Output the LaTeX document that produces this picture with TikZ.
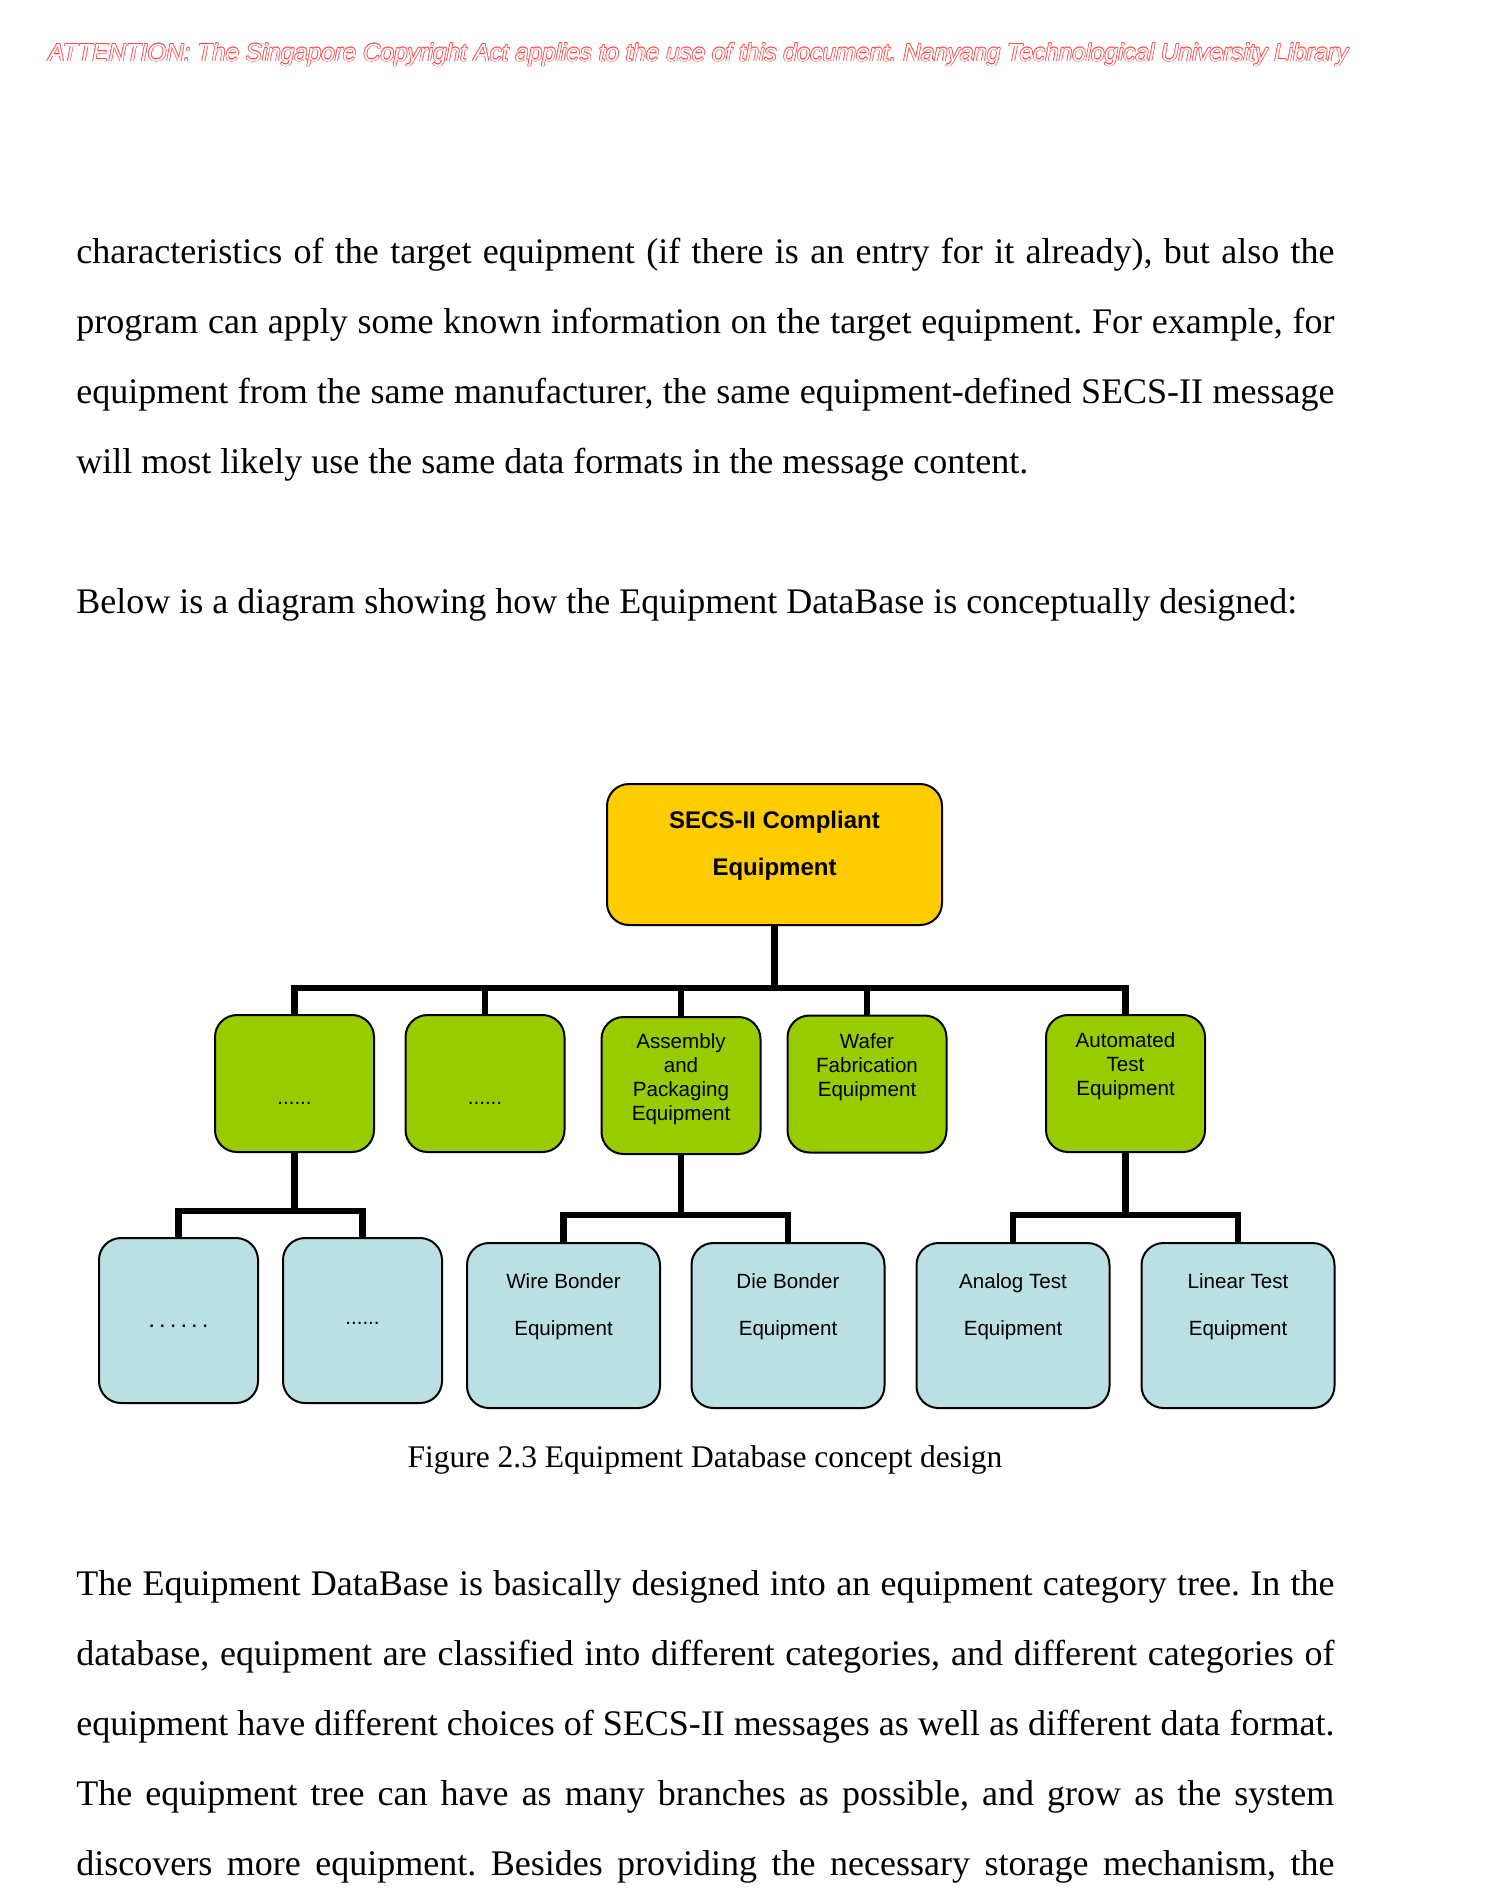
\documentclass[tikz,border=0pt]{standalone}
\usepackage{fontspec}
\setmainfont{Liberation Serif}
\newfontfamily\arialf{Liberation Sans}
\usepackage{graphicx}
\definecolor{rootfill}{HTML}{FFCC00}
\definecolor{catfill}{HTML}{99CC00}
\definecolor{leaffill}{HTML}{BBE0E3}
\definecolor{wmred}{HTML}{FF4A4A}
\newlength\wmoff
\setlength\wmoff{0.28pt}
\newcommand\hollowtxt[2]{\leavevmode
  \rlap{\color{#1}\kern\wmoff#2}%
  \rlap{\color{#1}\kern-\wmoff#2}%
  \rlap{\color{#1}\raisebox{\wmoff}{#2}}%
  \rlap{\color{#1}\raisebox{-\wmoff}{#2}}%
  \rlap{\color{#1}\kern0.7\wmoff\raisebox{0.7\wmoff}{#2}}%
  \rlap{\color{#1}\kern-0.7\wmoff\raisebox{0.7\wmoff}{#2}}%
  \rlap{\color{#1}\kern0.7\wmoff\raisebox{-0.7\wmoff}{#2}}%
  \rlap{\color{#1}\kern-0.7\wmoff\raisebox{-0.7\wmoff}{#2}}%
  {\color{white}#2}}
\tikzset{
  box/.style={draw=black, line width=1pt, rounded corners=11pt, inner sep=0pt},
  rootbox/.style={box, fill=rootfill, minimum width=167.5pt, minimum height=70.5pt},
  catbox/.style={box, fill=catfill, minimum width=79.5pt, minimum height=68.5pt},
  leafbox/.style={box, fill=leaffill, minimum width=79.5pt, minimum height=82.5pt},
  wleafbox/.style={box, fill=leaffill, minimum width=96.5pt, minimum height=82.5pt},
  conn/.style={line width=3.4pt, line join=miter},
  roottext/.style={anchor=base, inner sep=0pt, font=\arialf\bfseries\fontsize{12}{23.5}\selectfont},
  cattext/.style={anchor=base, inner sep=0pt, font=\arialf\fontsize{10.3}{12.15}\selectfont},
  leaftext/.style={anchor=base, inner sep=0pt, font=\arialf\fontsize{10.3}{23.5}\selectfont},
  body/.style={anchor=base west, inner sep=0pt, font=\fontsize{18}{22}\selectfont},
}
\newcommand\lines[1]{\begin{tabular}[t]{@{}c@{}}#1\end{tabular}}
\frenchspacing
\begin{document}
\frenchspacing
\begin{tikzpicture}[x=0.5pt, y=-0.5pt]
\path[use as bounding box, fill=white] (0,0) rectangle (1499,1903);

% watermark
\node[anchor=base west, inner sep=0pt] (wm) at (48,61)
  {\resizebox{650pt}{9.3pt}{\arialf\itshape\hollowtxt{wmred}{ATTENTION: The Singapore Copyright Act applies to the use of this document. Nanyang Technological University Library}}};

% body text, top
\node[body] (p1) at (76,263) {\makebox[629pt][s]{characteristics of the target equipment (if there is an entry for it already), but also the}};
\node[body] (p2) at (76,333) {\makebox[629pt][s]{program can apply some known information on the target equipment. For example, for}};
\node[body] (p3) at (76,403) {\makebox[629pt][s]{equipment from the same manufacturer, the same equipment-defined SECS-II message}};
\node[body] (p4) at (76,473) {will most likely use the same data formats in the message content.};
\node[body] (p5) at (76,613) {Below is a diagram showing how the Equipment DataBase is conceptually designed:};

% boxes
\node[rootbox] (root) at (774.5,854.5) {};
\node[catbox] (c1) at (294.5,1083.5) {};
\node[catbox] (c2) at (485,1083.5) {};
\node[catbox] (c3) at (681,1085.5) {};
\node[catbox] (c4) at (867,1084) {};
\node[catbox] (c5) at (1125.5,1083.5) {};
\node[leafbox] (l1) at (178.5,1320.5) {};
\node[leafbox] (l2) at (362.5,1320.5) {};
\node[wleafbox] (l3) at (563.5,1325.5) {};
\node[wleafbox] (l4) at (788,1325.5) {};
\node[wleafbox] (l5) at (1013,1325.5) {};
\node[wleafbox] (l6) at (1238,1325.5) {};

% connectors
\coordinate (bar) at (774.5,988);
\coordinate (j1) at (294.5,1211);
\coordinate (j3) at (681,1215);
\coordinate (j5) at (1125.5,1215);
\draw[conn] (root.south) -- (bar);
\draw[conn] (c1.north) |- (bar) -| (c5.north);
\draw[conn] (c2.north) -- (c2.north |- bar);
\draw[conn] (c3.north) -- (c3.north |- bar);
\draw[conn] (c4.north) -- (c4.north |- bar);
\draw[conn] (c1.south) -- (j1);
\draw[conn] (l1.north) |- (j1) -| (l2.north);
\draw[conn] (c3.south) -- (j3);
\draw[conn] (l3.north) |- (j3) -| (l4.north);
\draw[conn] (c5.south) -- (j5);
\draw[conn] (l5.north) |- (j5) -| (l6.north);

% box texts
\node[roottext] (roottxt) at (774.5,828) {\lines{SECS-II Compliant\\Equipment}};
\node[cattext] (c1txt) at (294.5,1104) {......};
\node[cattext] (c2txt) at (485,1104) {......};
\node[cattext] (c3txt) at (681,1048) {\lines{Assembly\\and\\Packaging\\Equipment}};
\node[cattext] (c4txt) at (867,1048) {\lines{Wafer\\Fabrication\\Equipment}};
\node[cattext] (c5txt) at (1125.5,1047) {\lines{Automated\\Test\\Equipment}};
\node[anchor=base, inner sep=0pt, font=\arialf\fontsize{12}{14}\selectfont] (l1txt) at (178.5,1327) {.\kern2pt.\kern2pt.\kern2pt.\kern2pt.\kern2pt.};
\node[cattext] (l2txt) at (362.5,1324) {......};
\node[leaftext] (l3txt) at (563.5,1288) {\lines{Wire Bonder\\Equipment}};
\node[leaftext] (l4txt) at (788,1288) {\lines{Die Bonder\\Equipment}};
\node[leaftext] (l5txt) at (1013,1288) {\lines{Analog Test\\Equipment}};
\node[leaftext] (l6txt) at (1238,1288) {\lines{Linear Test\\Equipment}};

% caption
\node[anchor=base, inner sep=0pt, font=\fontsize{15.75}{18}\selectfont] (cap) at (705,1467) {Figure 2.3 Equipment Database concept design};

% body text, bottom
\node[body] (q1) at (76,1595) {\makebox[629pt][s]{The Equipment DataBase is basically designed into an equipment category tree. In the}};
\node[body] (q2) at (76,1665) {\makebox[629pt][s]{database, equipment are classified into different categories, and different categories of}};
\node[body] (q3) at (76,1735) {\makebox[629pt][s]{equipment have different choices of SECS-II messages as well as different data format.}};
\node[body] (q4) at (76,1805) {\makebox[629pt][s]{The equipment tree can have as many branches as possible, and grow as the system}};
\node[body] (q5) at (76,1875) {\makebox[629pt][s]{discovers more equipment. Besides providing the necessary storage mechanism, the}};
\end{tikzpicture}
\end{document}
